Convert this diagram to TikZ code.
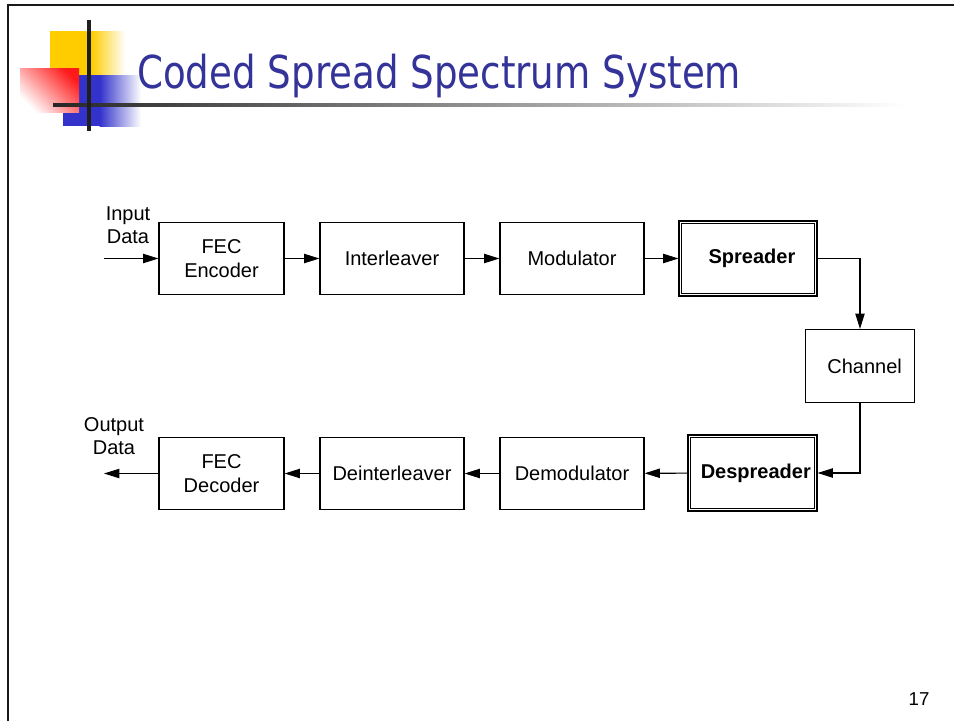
\documentclass[tikz,border=0pt]{standalone}
\usepackage{fontspec}
\setmainfont{Liberation Sans}
\newfontfamily\titlefont[FakeStretch=0.82]{DejaVu Sans}
\usetikzlibrary{arrows.meta}
\definecolor{titleblue}{HTML}{333399}
\definecolor{logoyellow}{HTML}{FFCC00}
\definecolor{logored}{HTML}{FF1A1A}
\definecolor{logoblue}{HTML}{3333CC}
\tikzset{
  blk/.style={draw=black, line width=0.9pt, minimum height=54pt, inner sep=1pt,
    align=center, font=\fontsize{15}{18}\selectfont},
  dblk/.style={blk, line width=0.8pt},
  inner frame/.style={draw=black, line width=0.8pt},
  flow/.style={line width=0.8pt, -{Triangle[length=11.5pt,width=7pt]}},
  lbl/.style={align=center, inner sep=0pt, font=\fontsize{15}{17.5}\selectfont},
}
\begin{document}
\begin{tikzpicture}[x=0.75pt, y=-0.75pt]
\useasboundingbox (0,0) rectangle (954,721);
\fill[white] (0,0) rectangle (954,721);

% slide frame
\draw[line width=2pt, black!90] (8,722) -- (8,5) -- (955,5);

% corner logo
\fill[logoyellow] (50,31) rectangle (92,76);
\shade[left color=logoyellow, right color=white] (91.5,31) rectangle (125,76);
\fill[logoblue] (63,75) rectangle (100,126);
\shade[left color=logoblue, right color=white] (99.5,75) rectangle (141,126);
\shade[top color=logored, bottom color=white, shading angle=-45] (20,68) rectangle (79,112);
\shade[left color=black!85, right color=white] (53,103.3) rectangle (905,106.7);
\fill[black!88] (87.2,20) rectangle (91,131);

% title
\node[anchor=base west, inner sep=0pt, text=titleblue,
      font=\titlefont\fontsize{34}{40}\selectfont] (title) at (137,88)
  {Coded Spread Spectrum System};

% transmitter chain
\node[blk, minimum width=93.75pt] (enc) at (221.5,258.5) {FEC\\Encoder};
\node[blk, minimum width=108pt] (ilv) at (392,258.5) {Interleaver};
\node[blk, minimum width=108pt] (mod) at (572,258.5) {Modulator};
\node[dblk, minimum width=103.5pt, minimum height=56.25pt] (spr) at (748,258.5)
  {\hspace*{6pt}\textbf{Spreader}};
\draw[inner frame] ([shift={(3,3)}]spr.north west) rectangle ([shift={(-3,-3)}]spr.south east);

% channel
\node[blk, minimum width=81.75pt, minimum height=54.75pt] (chan) at (860,366)
  {\hspace*{7pt}Channel};

% receiver chain
\node[dblk, minimum width=96.75pt, minimum height=57pt] (desp) at (752.5,473)
  {\hspace*{5pt}\textbf{Despreader}};
\draw[inner frame] ([shift={(3,3)}]desp.north west) rectangle ([shift={(-3,-3)}]desp.south east);
\node[blk, minimum width=108pt] (dem) at (572,473.5) {Demodulator};
\node[blk, minimum width=108pt] (dil) at (392,473.5) {Deinterleaver};
\node[blk, minimum width=93.75pt] (dec) at (221.5,473.5) {FEC\\Decoder};

% free ends
\coordinate (in) at (104,258.5);
\coordinate (out) at (104,473.5);

\node[lbl] (inlbl) at (128,225) {Input\\Data};
\node[lbl] (outlbl) at (114,436) {Output\\Data};

% connectors
\draw[flow] (in) -- (enc);
\draw[flow] (enc) -- (ilv);
\draw[flow] (ilv) -- (mod);
\draw[flow] (mod) -- (spr);
\draw[flow] (spr.east) -| (chan.north);
\draw[flow] (chan.south) |- (desp.east);
\draw[flow] (desp) -- (dem);
\draw[flow] (dem) -- (dil);
\draw[flow] (dil) -- (dec);
\draw[flow] (dec) -- (out);

% page number
\node[inner sep=0pt, font=\fontsize{14}{16}\selectfont] (pgno) at (919,699) {17};
\end{tikzpicture}
\end{document}
